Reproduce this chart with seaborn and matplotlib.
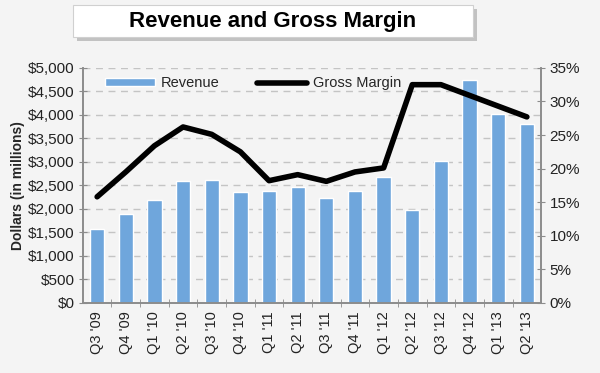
import numpy as np
import pandas as pd
import matplotlib
matplotlib.use("Agg")
import matplotlib.pyplot as plt
import seaborn as sns
from matplotlib.patches import Rectangle
from matplotlib.ticker import FixedLocator, FuncFormatter

# datos
quarters = ["Q3 '09", "Q4 '09", "Q1 '10", "Q2 '10", "Q3 '10", "Q4 '10",
            "Q1 '11", "Q2 '11", "Q3 '11", "Q4 '11", "Q1 '12", "Q2 '12",
            "Q3 '12", "Q4 '12", "Q1 '13", "Q2 '13"]
revenue = [1580, 1900, 2190, 2600, 2620, 2360, 2380, 2460,
           2230, 2385, 2670, 1980, 3010, 4745, 4015, 3800]
gross_margin = [15.8, 19.5, 23.4, 26.2, 25.1, 22.5, 18.2, 19.1,
                18.1, 19.5, 20.1, 32.5, 32.5, 30.9, 29.3, 27.7]
left_ticks = [0, 500, 1000, 1500, 2000, 2500, 3000, 3500, 4000, 4500, 5000]
right_ticks = [0, 5, 10, 15, 20, 25, 30, 35]

BG = "#f4f4f4"
BAR = "#6fa6dc"
GRIS = "#8c8c8c"

df = pd.DataFrame({"quarter": quarters, "revenue": revenue, "gm": gross_margin})

sns.set_style("white")
plt.rcParams["font.family"] = ["Liberation Sans", "DejaVu Sans"]

fig = plt.figure(figsize=(6, 3.73), dpi=100, facecolor=BG)
ax = fig.add_axes([0.138, 0.188, 0.764, 0.630])
ax.set_facecolor(BG)

sns.barplot(data=df, x="quarter", y="revenue", color=BAR, width=0.5,
            saturation=1, ax=ax, label="Revenue", zorder=2)
ax.set_ylim(0, 5000)
ax.set_xlim(-0.5, len(quarters) - 0.5)
ax.yaxis.set_major_locator(FixedLocator(left_ticks))
ax.yaxis.set_major_formatter(FuncFormatter(lambda v, p: f"${v:,.0f}"))
ax.grid(axis="y", color="#c4c4c4", linestyle=(0, (5, 4)), linewidth=1, zorder=0)
ax.set_axisbelow(True)
ax.set_xlabel("")
ax.set_ylabel("Dollars (in millions)", fontsize=10, fontweight="bold", labelpad=2)

ax2 = ax.twinx()
sns.lineplot(data=df, x="quarter", y="gm", color="black", linewidth=4,
             ax=ax2, label="Gross Margin", zorder=3)
ax2.set_ylim(0, 35)
ax2.yaxis.set_major_locator(FixedLocator(right_ticks))
ax2.yaxis.set_major_formatter(FuncFormatter(lambda v, p: f"{v:.0f}%"))
ax2.set_ylabel("")
ax2.set_xlim(-0.5, len(quarters) - 0.5)

for a in (ax, ax2):
    for s in a.spines.values():
        s.set_color(GRIS)
        s.set_linewidth(1.2)
    a.spines["top"].set_visible(False)

ax.tick_params(axis="y", direction="inout", length=6, color=GRIS, labelsize=11,
               left=True, labelcolor="#222222", pad=3)
ax2.tick_params(axis="y", direction="inout", length=6, color=GRIS, labelsize=11,
                right=True, labelcolor="#222222", pad=3)
ax.set_xticks(range(len(quarters)))
ax.set_xticklabels(quarters, rotation=90, fontsize=10.5, color="#222222")
ax.tick_params(axis="x", which="major", length=0, pad=6)
ax.set_xticks(np.arange(0.5, len(quarters) - 0.5, 1), minor=True)
ax.tick_params(axis="x", which="minor", direction="inout", length=6, color=GRIS,
               bottom=True)

# leyenda combinada
h1, l1 = ax.get_legend_handles_labels()
h2, l2 = ax2.get_legend_handles_labels()
for a in (ax, ax2):
    if a.get_legend():
        a.get_legend().remove()
ax2.legend(h1 + h2, l1 + l2, ncol=2, frameon=False, loc="upper left",
           bbox_to_anchor=(0.02, 1.02), handlelength=3.4, handleheight=0.5,
           columnspacing=2.6, fontsize=10.5, handletextpad=0.4)

# caja del titulo con sombra
fig.patches.append(Rectangle((0.128, 0.889), 0.667, 0.087, transform=fig.transFigure,
                             facecolor="#9a9a9a", edgecolor="none", alpha=0.55, zorder=0))
fig.patches.append(Rectangle((0.122, 0.900), 0.667, 0.087, transform=fig.transFigure,
                             facecolor="white", edgecolor="#d0d0d0", linewidth=0.8, zorder=1))
fig.text(0.455, 0.943, "Revenue and Gross Margin", ha="center", va="center",
         fontsize=16, fontweight="bold", color="black", zorder=2)

fig.savefig("out.png", dpi=100, facecolor=BG)
